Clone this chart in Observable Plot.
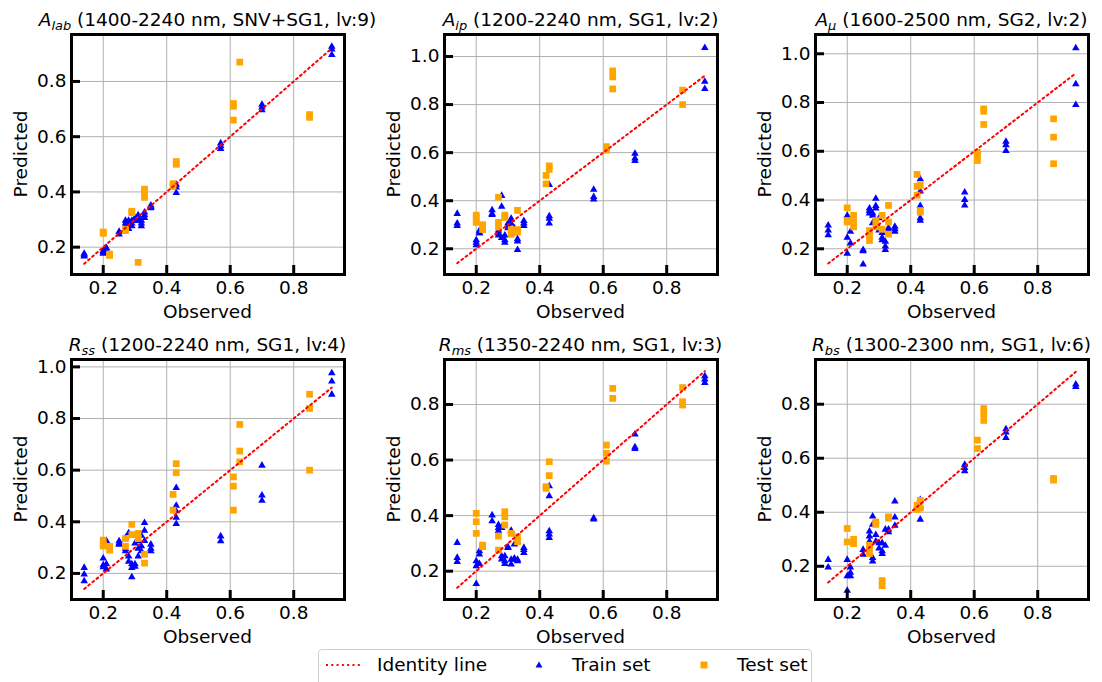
<!DOCTYPE html>
<html><head><meta charset="utf-8">
<script src="https://cdn.jsdelivr.net/npm/d3@7"></script>
<script src="https://cdn.jsdelivr.net/npm/@observablehq/plot@0.6"></script>
<style>
html,body{margin:0;padding:0;background:#fff;overflow:hidden;}
#root{position:relative;width:1102px;height:682px;font-family:"DejaVu Sans",sans-serif;color:#000;overflow:hidden;}
.panel{position:absolute;}
.lbl{position:absolute;font-size:18.5px;line-height:1;white-space:nowrap;transform:translate(-50%,-50%);}
.lbl sub{font-size:0.7em;vertical-align:-0.3em;line-height:0;}
.ylab{transform:translate(-50%,-50%) rotate(-90deg);}
#legend{position:absolute;left:318px;top:649px;width:494px;height:42px;border:1px solid #d0d0d0;border-radius:4px;box-sizing:border-box;background:#fff;}
#legend .it{position:absolute;font-size:18.5px;line-height:1;white-space:nowrap;transform:translateY(-50%);top:15px;}
#legend svg{position:absolute;}
</style>
</head><body><div id="root"></div>
<script>
// ---------- data ----------
const titleSymbols = ["A", "A", "A", "R", "R", "R"];
const titleSubs = ["lab", "ip", "μ", "ss", "ms", "bs"];
const titleRest = [
  " (1400-2240 nm, SNV+SG1, lv:9)",
  " (1200-2240 nm, SG1, lv:2)",
  " (1600-2500 nm, SG2, lv:2)",
  " (1200-2240 nm, SG1, lv:4)",
  " (1350-2240 nm, SG1, lv:3)",
  " (1300-2300 nm, SG1, lv:6)"
];
const xTickValues = [0.2, 0.4, 0.6, 0.8];
const yTickValues = [
  [0.2, 0.4, 0.6, 0.8],
  [0.2, 0.4, 0.6, 0.8, 1.0],
  [0.2, 0.4, 0.6, 0.8, 1.0],
  [0.2, 0.4, 0.6, 0.8, 1.0],
  [0.2, 0.4, 0.6, 0.8],
  [0.2, 0.4, 0.6, 0.8]
];
const identityRange = [0.14, 0.92];

// [observed, predicted]
const trainAlab = [[0.14,0.17],[0.14,0.18],[0.14,0.175],[0.2,0.18],[0.2,0.19],[0.2,0.185],[0.21,0.2],[0.21,0.19],[0.21,0.2],
  [0.25,0.25],[0.25,0.26],[0.27,0.28],[0.27,0.29],[0.27,0.3],[0.28,0.3],[0.28,0.29],[0.28,0.27],[0.29,0.28],[0.29,0.3],[0.29,0.29],
  [0.3,0.3],[0.3,0.31],[0.3,0.3],[0.31,0.31],[0.31,0.32],[0.31,0.3],[0.32,0.29],[0.32,0.28],[0.32,0.3],[0.33,0.32],[0.33,0.31],[0.33,0.33],
  [0.35,0.35],[0.35,0.355],[0.35,0.345],[0.43,0.42],[0.43,0.43],[0.43,0.4],[0.57,0.56],[0.57,0.57],[0.57,0.58],
  [0.7,0.7],[0.7,0.71],[0.7,0.72],[0.92,0.9],[0.92,0.92],[0.92,0.93]];
const testAlab = [[0.2,0.255],[0.2,0.25],[0.22,0.17],[0.22,0.175],[0.27,0.26],[0.27,0.265],[0.29,0.33],[0.29,0.325],[0.31,0.145],
  [0.33,0.38],[0.33,0.4],[0.33,0.41],[0.42,0.43],[0.42,0.42],[0.43,0.5],[0.43,0.51],[0.61,0.66],[0.61,0.72],[0.61,0.71],[0.63,0.87],
  [0.85,0.67],[0.85,0.68]];

const trainAip = [[0.14,0.35],[0.14,0.31],[0.14,0.3],[0.2,0.24],[0.2,0.23],[0.2,0.22],[0.21,0.27],[0.21,0.28],[0.21,0.27],
  [0.25,0.365],[0.25,0.345],[0.25,0.35],[0.27,0.27],[0.27,0.28],[0.27,0.26],[0.28,0.425],[0.28,0.38],[0.28,0.25],[0.29,0.26],[0.29,0.23],[0.29,0.24],
  [0.3,0.3],[0.3,0.29],[0.3,0.31],[0.31,0.325],[0.31,0.31],[0.31,0.33],[0.32,0.28],[0.32,0.29],[0.32,0.27],[0.33,0.235],[0.33,0.245],[0.33,0.2],
  [0.35,0.31],[0.35,0.32],[0.35,0.3],[0.43,0.34],[0.43,0.33],[0.43,0.31],[0.43,0.47],[0.57,0.45],[0.57,0.42],[0.57,0.41],
  [0.7,0.6],[0.7,0.58],[0.7,0.57],[0.92,1.04],[0.92,0.9],[0.92,0.87]];
const testAip = [[0.2,0.33],[0.2,0.34],[0.2,0.31],[0.22,0.3],[0.22,0.28],[0.27,0.414],[0.27,0.31],[0.27,0.29],[0.29,0.34],[0.29,0.33],
  [0.31,0.28],[0.31,0.26],[0.33,0.36],[0.33,0.27],[0.33,0.28],[0.42,0.505],[0.42,0.47],[0.43,0.545],[0.43,0.53],[0.61,0.625],[0.61,0.61],
  [0.63,0.94],[0.63,0.915],[0.63,0.865],[0.85,0.86],[0.85,0.8]];

const trainAmu = [[0.14,0.3],[0.14,0.28],[0.14,0.26],[0.2,0.185],[0.2,0.25],[0.2,0.34],[0.21,0.316],[0.21,0.275],[0.21,0.227],
  [0.25,0.2],[0.25,0.195],[0.25,0.14],[0.27,0.37],[0.27,0.36],[0.27,0.35],[0.28,0.35],[0.28,0.34],[0.28,0.31],[0.29,0.41],[0.29,0.38],[0.29,0.37],
  [0.3,0.33],[0.3,0.29],[0.3,0.28],[0.31,0.27],[0.31,0.25],[0.31,0.24],[0.32,0.234],[0.32,0.214],[0.32,0.2],[0.33,0.29],[0.33,0.28],[0.33,0.28],
  [0.35,0.295],[0.35,0.285],[0.35,0.275],[0.43,0.49],[0.43,0.44],[0.43,0.38],[0.43,0.33],[0.43,0.32],[0.57,0.436],[0.57,0.405],[0.57,0.382],
  [0.7,0.644],[0.7,0.63],[0.7,0.606],[0.92,1.027],[0.92,0.88],[0.92,0.795]];
const testAmu = [[0.2,0.368],[0.2,0.316],[0.2,0.31],[0.22,0.337],[0.22,0.31],[0.22,0.29],[0.27,0.275],[0.27,0.255],[0.27,0.234],
  [0.29,0.316],[0.29,0.29],[0.31,0.337],[0.31,0.28],[0.33,0.378],[0.33,0.31],[0.33,0.26],[0.42,0.505],[0.42,0.456],[0.42,0.42],
  [0.43,0.46],[0.43,0.357],[0.43,0.35],[0.61,0.596],[0.61,0.58],[0.61,0.562],[0.63,0.774],[0.63,0.764],[0.63,0.71],
  [0.85,0.733],[0.85,0.658],[0.85,0.549]];

const trainRss = [[0.14,0.226],[0.14,0.2],[0.14,0.174],[0.2,0.262],[0.2,0.236],[0.2,0.228],[0.21,0.33],[0.21,0.24],[0.21,0.22],
  [0.25,0.329],[0.25,0.316],[0.25,0.32],[0.27,0.342],[0.27,0.3],[0.27,0.29],[0.28,0.36],[0.28,0.27],[0.28,0.25],[0.29,0.19],[0.29,0.24],[0.29,0.226],
  [0.3,0.23],[0.3,0.24],[0.3,0.32],[0.31,0.33],[0.31,0.3],[0.31,0.27],[0.32,0.35],[0.32,0.31],[0.32,0.29],[0.33,0.4],[0.33,0.37],[0.33,0.33],
  [0.35,0.316],[0.35,0.29],[0.35,0.3],[0.43,0.535],[0.43,0.467],[0.43,0.445],[0.43,0.42],[0.43,0.396],[0.57,0.348],[0.57,0.329],
  [0.7,0.622],[0.7,0.506],[0.7,0.486],[0.92,0.98],[0.92,0.948],[0.92,0.897]];
const testRss = [[0.2,0.329],[0.2,0.306],[0.2,0.31],[0.22,0.305],[0.22,0.29],[0.27,0.335],[0.27,0.305],[0.29,0.39],[0.29,0.35],
  [0.31,0.355],[0.31,0.335],[0.33,0.274],[0.33,0.24],[0.42,0.506],[0.42,0.445],[0.43,0.625],[0.43,0.59],
  [0.61,0.574],[0.61,0.538],[0.61,0.445],[0.63,0.777],[0.63,0.674],[0.63,0.632],[0.85,0.894],[0.85,0.839],[0.85,0.6]];

const trainRms = [[0.14,0.306],[0.14,0.252],[0.14,0.237],[0.2,0.158],[0.2,0.222],[0.2,0.24],[0.21,0.264],[0.21,0.276],[0.21,0.23],
  [0.25,0.405],[0.25,0.384],[0.27,0.36],[0.27,0.37],[0.27,0.35],[0.28,0.258],[0.28,0.246],[0.28,0.36],[0.29,0.258],[0.29,0.24],[0.29,0.23],
  [0.3,0.288],[0.3,0.29],[0.31,0.35],[0.31,0.245],[0.31,0.228],[0.32,0.246],[0.32,0.25],[0.32,0.3],[0.33,0.24],[0.33,0.245],[0.33,0.31],
  [0.35,0.288],[0.35,0.27],[0.35,0.28],[0.43,0.348],[0.43,0.336],[0.43,0.324],[0.43,0.51],[0.43,0.474],[0.57,0.39],[0.57,0.395],
  [0.7,0.696],[0.7,0.644],[0.7,0.65],[0.92,0.906],[0.92,0.894],[0.92,0.882]];
const testRms = [[0.2,0.408],[0.2,0.378],[0.2,0.336],[0.22,0.294],[0.22,0.288],[0.27,0.326],[0.27,0.276],[0.29,0.414],[0.29,0.396],[0.29,0.366],
  [0.31,0.336],[0.33,0.324],[0.33,0.306],[0.42,0.504],[0.42,0.498],[0.43,0.594],[0.43,0.544],[0.61,0.654],[0.61,0.624],[0.61,0.596],
  [0.63,0.858],[0.63,0.822],[0.85,0.861],[0.85,0.81],[0.85,0.798]];

const trainRbs = [[0.14,0.228],[0.14,0.2],[0.2,0.228],[0.2,0.114],[0.2,0.167],[0.21,0.2],[0.21,0.18],[0.21,0.167],
  [0.25,0.265],[0.25,0.247],[0.27,0.333],[0.27,0.315],[0.27,0.296],[0.28,0.389],[0.28,0.358],[0.28,0.235],[0.28,0.222],[0.29,0.32],[0.29,0.296],
  [0.3,0.27],[0.3,0.29],[0.31,0.26],[0.31,0.29],[0.31,0.25],[0.32,0.34],[0.32,0.28],[0.33,0.33],[0.33,0.34],
  [0.35,0.444],[0.35,0.385],[0.35,0.354],[0.43,0.426],[0.43,0.377],[0.43,0.45],[0.57,0.58],[0.57,0.568],[0.57,0.556],
  [0.7,0.712],[0.7,0.7],[0.7,0.679],[0.92,0.877],[0.92,0.868]];
const testRbs = [[0.2,0.34],[0.2,0.29],[0.22,0.3],[0.22,0.284],[0.27,0.278],[0.27,0.247],[0.27,0.265],[0.29,0.364],[0.29,0.355],
  [0.31,0.147],[0.31,0.128],[0.33,0.383],[0.33,0.378],[0.42,0.426],[0.42,0.41],[0.43,0.444],[0.43,0.416],
  [0.61,0.667],[0.61,0.636],[0.63,0.784],[0.63,0.765],[0.63,0.74],[0.85,0.525],[0.85,0.519]];

const trainSets = [trainAlab, trainAip, trainAmu, trainRss, trainRms, trainRbs];
const testSets = [testAlab, testAip, testAmu, testRss, testRms, testRbs];

// ---------- layout ----------
const frameLefts = [71, 444, 815];
const frameTops = [34, 359];
const W = 273, H = 240;
const ML = 60, MR = 14, MT = 14, MB = 34;
const xDomain = [0.1, 0.96];
const yDomains = [[0.101, 0.970], [0.093, 1.0915], [0.0946, 1.079], [0.099, 1.0286], [0.098, 0.962], [0.077, 0.9656]];
const FS = "18.5px";
const fmt = d3.format(".1f");

const root = document.getElementById("root");

for (let i = 0; i < 6; i++) {
  const col = i % 3, row = Math.floor(i / 3);
  const fl = frameLefts[col], ft = frameTops[row];
  const identity = identityRange.map(v => ({x: v, y: v}));
  const svg = Plot.plot({
    width: ML + W + MR, height: MT + H + MB,
    marginLeft: ML, marginRight: MR, marginTop: MT, marginBottom: MB,
    style: {fontFamily: "DejaVu Sans", fontSize: FS, background: "transparent", overflow: "visible", color: "#000"},
    x: {domain: xDomain, label: null},
    y: {domain: yDomains[i], label: null},
    marks: [
      Plot.gridX(xTickValues, {stroke: "#b0b0b0", strokeOpacity: 1, strokeWidth: 1}),
      Plot.gridY(yTickValues[i], {stroke: "#b0b0b0", strokeOpacity: 1, strokeWidth: 1}),
      Plot.dot(trainSets[i], {x: d => d[0], y: d => d[1], symbol: "triangle", r: 2.8, fill: "#0000ff", stroke: "none", dy: 1}),
      Plot.dot(testSets[i], {x: d => d[0], y: d => d[1], symbol: "square", r: 3.8, fill: "#ffa500", stroke: "none"}),
      Plot.line(identity, {x: "x", y: "y", stroke: "#ff0000", strokeWidth: 2, strokeDasharray: "2,3.3"}),
      Plot.frame({stroke: "#000", strokeWidth: 3}),
      Plot.axisX(xTickValues, {tickSize: -9, strokeWidth: 3, tickPadding: 15, tickFormat: fmt, label: null, fill: "#000"}),
      Plot.axisY(yTickValues[i], {tickSize: -9, strokeWidth: 3, tickPadding: 14, tickFormat: fmt, label: null, fill: "#000"})
    ]
  });
  svg.classList.add("panel");
  svg.style.left = (fl - ML) + "px";
  svg.style.top = (ft - MT) + "px";
  root.appendChild(svg);

  const t = document.createElement("div");
  t.className = "lbl";
  t.style.left = (fl + W / 2) + "px";
  t.style.top = (ft - 14) + "px";
  const it = document.createElement("i");
  it.textContent = titleSymbols[i];
  const sb = document.createElement("sub");
  sb.textContent = titleSubs[i];
  it.appendChild(sb);
  t.appendChild(it);
  t.appendChild(document.createTextNode(titleRest[i]));
  root.appendChild(t);

  const xl = document.createElement("div");
  xl.className = "lbl";
  xl.textContent = "Observed";
  xl.style.left = (fl + W / 2) + "px";
  xl.style.top = (ft + H + 38) + "px";
  root.appendChild(xl);

  const yl = document.createElement("div");
  yl.className = "lbl ylab";
  yl.textContent = "Predicted";
  yl.style.left = (fl - 50) + "px";
  yl.style.top = (ft + H / 2) + "px";
  root.appendChild(yl);
}

// ---------- legend ----------
const legend = document.createElement("div");
legend.id = "legend";
legend.innerHTML = `
<svg style="left:6px;top:10px" width="40" height="10"><line x1="1" y1="5" x2="38" y2="5" stroke="#ff0000" stroke-width="2" stroke-dasharray="2,3.3"/></svg>
<div class="it" style="left:58px">Identity line</div>
<svg style="left:214px;top:9px" width="12" height="12"><path d="M6,2.5L9.5,8.5L2.5,8.5Z" fill="#0000ff"/></svg>
<div class="it" style="left:253px">Train set</div>
<svg style="left:379px;top:9px" width="12" height="12"><rect x="2.5" y="2.5" width="7" height="7" fill="#ffa500"/></svg>
<div class="it" style="left:418px">Test set</div>`;
root.appendChild(legend);
</script>
</body></html>
